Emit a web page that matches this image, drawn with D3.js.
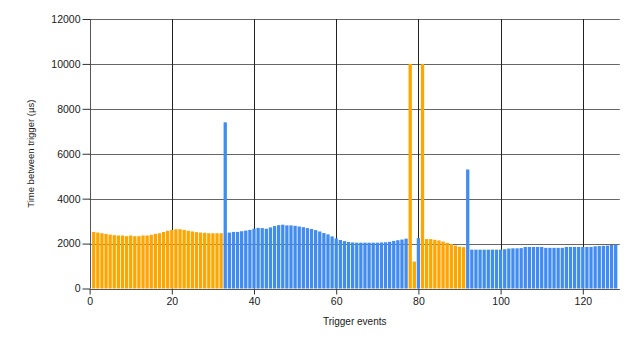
<!DOCTYPE html>
<html>
<head>
<meta charset="utf-8">
<script src="https://cdn.jsdelivr.net/npm/d3@7"></script>
<style>
  html, body { margin: 0; padding: 0; background: #fff; }
  svg { display: block; font-family: "Liberation Sans", Arial, sans-serif; }
</style>
</head>
<body>
<svg id="chart" width="640" height="341"></svg>
<script>
// Time between consecutive trigger events (µs), events 1..128
const times = [
  2520, 2490, 2460, 2430, 2400, 2375, 2360, 2360, 2330, 2360,
  2330, 2330, 2360, 2360, 2390, 2430, 2460, 2520, 2570, 2610,
  2640, 2640, 2610, 2570, 2540, 2510, 2490, 2480, 2460, 2460,
  2460, 2460, 7400, 2490, 2520, 2520, 2550, 2580, 2610, 2660,
  2700, 2690, 2660, 2720, 2780, 2820, 2840, 2810, 2810, 2790,
  2760, 2730, 2690, 2650, 2600, 2540, 2470, 2410, 2320, 2230,
  2160, 2110, 2070, 2050, 2040, 2040, 2040, 2040, 2040, 2040,
  2050, 2060, 2080, 2120, 2150, 2180, 2220, 10000, 1200, 2240,
  10000, 2200, 2200, 2170, 2140, 2090, 2030, 1980, 1910, 1860,
  1840, 5300, 1730, 1730, 1730, 1730, 1730, 1730, 1730, 1730,
  1750, 1780, 1790, 1790, 1800, 1850, 1850, 1850, 1850, 1850,
  1810, 1810, 1810, 1810, 1810, 1850, 1850, 1850, 1850, 1850,
  1850, 1850, 1880, 1890, 1900, 1910, 1940, 1950
];
// Event ranges (inclusive) belonging to the orange series; all others are blue
const orangeRanges = [[1, 32], [78, 79], [81, 91]];
const xTicks = [0, 20, 40, 60, 80, 100, 120];
const yTicks = [0, 2000, 4000, 6000, 8000, 10000, 12000];
const xTitle = "Trigger events";
const yTitle = "Time between trigger (µs)";

const colors = { orange: "#FFA500", blue: "#418CF0" };

const svg = d3.select("#chart");
const plotLeft = 89.6, plotRight = 619.8, plotTop = 19, plotBottom = 288.5;

const x = d3.scaleLinear().domain([0, 129]).range([plotLeft, plotRight]);
const y = d3.scaleLinear().domain([0, 12000]).range([plotBottom, plotTop]);

const isOrange = n => orangeRanges.some(([a, b]) => n >= a && n <= b);
const data = times.map((v, i) => ({ n: i + 1, v, c: isOrange(i + 1) ? colors.orange : colors.blue }));

// grid lines
const grid = svg.append("g");
grid.selectAll("line.h").data(yTicks.filter(d => d > 0)).join("line")
  .attr("x1", plotLeft).attr("x2", plotRight)
  .attr("y1", d => Math.round(y(d)) + 0.5).attr("y2", d => Math.round(y(d)) + 0.5)
  .attr("stroke", "#666").attr("stroke-width", 1.2);
grid.selectAll("line.v").data(xTicks.filter(d => d > 0)).join("line")
  .attr("x1", d => Math.round(x(d)) + 0.5).attr("x2", d => Math.round(x(d)) + 0.5)
  .attr("y1", plotTop).attr("y2", plotBottom)
  .attr("stroke", "#222").attr("stroke-width", 1);

// bars
const bw = (x(1) - x(0)) * 0.8;
svg.append("g").selectAll("rect").data(data).join("rect")
  .attr("x", d => x(d.n) - bw / 2)
  .attr("width", bw)
  .attr("y", d => y(d.v))
  .attr("height", d => y(0) - y(d.v))
  .attr("fill", d => d.c);

// axes
const yAxis = d3.axisLeft(y).tickValues(yTicks).tickSize(8).tickPadding(2).tickFormat(d3.format("d"));
const gy = svg.append("g").attr("transform", `translate(${Math.round(plotLeft) + 0.5},0)`).call(yAxis);
const xAxis = d3.axisBottom(x).tickValues(xTicks).tickSize(5).tickPadding(3).tickFormat(d3.format("d"));
const gx = svg.append("g").attr("transform", `translate(0,${Math.round(plotBottom) + 0.5})`).call(xAxis);

[gx, gy].forEach(g => {
  g.select(".domain").attr("stroke", "#555");
  g.selectAll(".tick line").attr("stroke", "#333");
  g.selectAll("text").attr("fill", "#1a1a1a").style("font-size", "10.5px")
    .style("font-family", "'Liberation Sans', Arial, sans-serif");
});
gy.select(".domain").attr("d", `M0,${plotTop}V${plotBottom}`);
gx.select(".domain").attr("d", `M${plotLeft},0H${plotRight}`);

// axis titles
svg.append("text")
  .attr("x", (plotLeft + plotRight) / 2).attr("y", 325)
  .attr("text-anchor", "middle")
  .style("font-size", "10px").attr("fill", "#1a1a1a")
  .text(xTitle);
svg.append("text")
  .attr("transform", `translate(34,${(plotTop + plotBottom) / 2}) rotate(-90)`)
  .attr("text-anchor", "middle")
  .style("font-size", "9.5px").attr("fill", "#1a1a1a")
  .text(yTitle);
</script>
</body>
</html>
